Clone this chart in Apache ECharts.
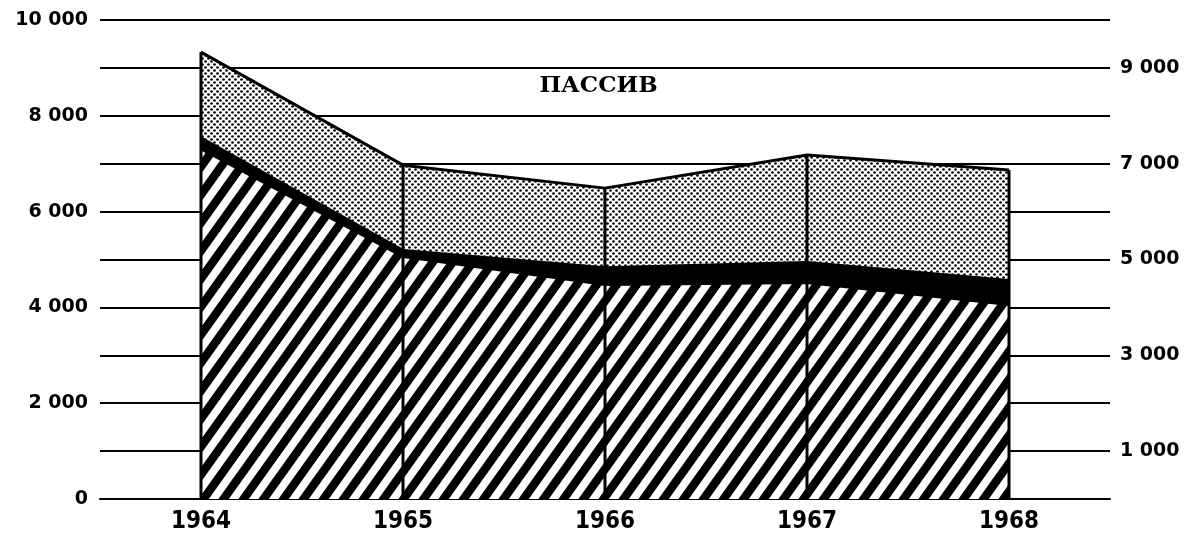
<!DOCTYPE html>
<html>
<head>
<meta charset="utf-8">
<script src="https://cdn.jsdelivr.net/npm/echarts@6/dist/echarts.min.js"></script>
<style>html,body{margin:0;padding:0;background:#fff}#c{width:1197px;height:549px}</style>
</head>
<body>
<div id="c"></div>
<script>
// Data
const years = ['1964', '1965', '1966', '1967', '1968'];
const hatched = [7300, 5050, 4470, 4510, 4050];
const blackBand = [250, 150, 370, 440, 520];
const dotted = [1780, 1770, 1650, 2230, 2300];
const leftTicks = [0, 2000, 4000, 6000, 8000, 10000];
const rightTicks = [1000, 3000, 5000, 7000, 9000];
const title = 'ПАССИВ';

const totals = years.map((_, i) => hatched[i] + blackBand[i] + dotted[i]);

function fmt(v) {
  if (v === 0) return '0';
  return Math.floor(v / 1000) + ' 000';
}

function hatchPattern() {
  const W = 20, H = 28;
  const c = document.createElement('canvas');
  c.width = W; c.height = H;
  const g = c.getContext('2d');
  g.fillStyle = '#fff'; g.fillRect(0, 0, W, H);
  g.strokeStyle = '#000'; g.lineWidth = 8.5;
  for (let k = -2; k <= 2; k++) {
    g.beginPath();
    g.moveTo(k * W - W, 2 * H);
    g.lineTo(k * W + 2 * W, -H);
    g.stroke();
  }
  return c;
}
function dotPattern() {
  const S = 6;
  const c = document.createElement('canvas');
  c.width = S; c.height = S;
  const g = c.getContext('2d');
  g.fillStyle = '#fff'; g.fillRect(0, 0, S, S);
  g.fillStyle = '#000';
  g.beginPath(); g.arc(1.5, 1.5, 1.35, 0, Math.PI * 2); g.fill();
  g.beginPath(); g.arc(4.5, 4.5, 1.35, 0, Math.PI * 2); g.fill();
  return c;
}

const chart = echarts.init(document.getElementById('c'), null, {renderer: 'canvas'});
const numFont = {fontFamily: 'DejaVu Sans', fontSize: 19, fontWeight: 'bold', color: '#000'};
chart.setOption({
  animation: false,
  backgroundColor: '#fff',
  title: {
    text: title, left: 'center', top: 70,
    textStyle: {fontFamily: 'DejaVu Serif', fontSize: 23, fontWeight: 'bold', color: '#000'}
  },
  grid: {left: 100, right: 87, top: 20, bottom: 50, containLabel: false},
  xAxis: {
    type: 'category', data: years, boundaryGap: true,
    axisLine: {show: true, lineStyle: {color: '#000', width: 2}},
    axisTick: {show: false},
    axisLabel: {margin: 11, color: '#000', fontFamily: "'Liberation Sans Narrow', 'DejaVu Sans Condensed', sans-serif", fontWeight: 'bold', fontSize: 24}
  },
  yAxis: [{
    type: 'value', min: 0, max: 10000, interval: 1000, position: 'left',
    axisLine: {show: false}, axisTick: {show: false},
    splitLine: {show: true, lineStyle: {color: '#000', width: 2}},
    axisLabel: Object.assign({margin: 12, formatter: v => leftTicks.includes(v) ? fmt(v) : ''}, numFont)
  }, {
    type: 'value', min: 0, max: 10000, interval: 1000, position: 'right',
    axisLine: {show: false}, axisTick: {show: false}, splitLine: {show: false},
    axisLabel: Object.assign({margin: 10, formatter: v => rightTicks.includes(v) ? fmt(v) : ''}, numFont)
  }],
  series: [{
    type: 'line', stack: 'p', data: hatched, symbol: 'none',
    lineStyle: {color: '#000', width: 2},
    areaStyle: {color: {image: hatchPattern(), repeat: 'repeat'}, opacity: 1}
  }, {
    type: 'line', stack: 'p', data: blackBand, symbol: 'none',
    lineStyle: {color: '#000', width: 2},
    areaStyle: {color: '#000', opacity: 1}
  }, {
    type: 'line', stack: 'p', data: dotted, symbol: 'none',
    lineStyle: {color: '#000', width: 3},
    areaStyle: {color: {image: dotPattern(), repeat: 'repeat'}, opacity: 1}
  }, {
    type: 'bar', data: totals, barWidth: 3, barGap: '-100%',
    itemStyle: {color: '#000'}, z: 5
  }]
});
</script>
</body>
</html>
